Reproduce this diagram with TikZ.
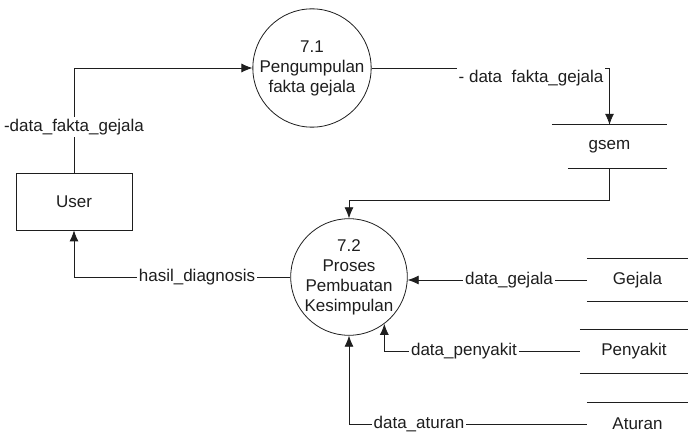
\documentclass[tikz,border=0pt]{standalone}
\usepackage{fontspec}
\setmainfont{Liberation Sans}
\usetikzlibrary{arrows.meta,calc}
\definecolor{ink}{HTML}{1E1E1E}
\begin{document}
\begin{tikzpicture}[x=1pt,y=-1pt,
  font=\fontsize{17}{20}\selectfont,
  every node/.style={text=ink},
  flow/.style={draw=ink,line width=0.8pt},
  arr/.style={flow,-{Latex[length=11pt,width=9pt]}},
  proc/.style={circle,draw=ink,line width=0.8pt,minimum size=113pt,inner sep=0pt,align=center},
  entity/.style={rectangle,draw=ink,line width=0.8pt,minimum width=116pt,minimum height=57pt},
  store/.style={minimum height=43pt,inner sep=0pt},
  lbl/.style={fill=white,inner sep=2pt}]
% canvas
\fill[white] (0,0) rectangle (688,446);
\useasboundingbox (0,0) rectangle (688,446);

% processes
\node[proc] (p1) at (312,68) {7.1\\Pengumpulan\\fakta gejala};
\node[proc] (p2) at (349,277) {7.2\\Proses\\Pembuatan\\Kesimpulan};

% external entity
\node[entity] (user) at (74,201.5) {User};

% data stores
\node[store,minimum width=115pt] (gsem) at (609.5,146.5) {gsem};
\draw[flow] (gsem.north west) -- (gsem.north east);
\draw[flow] ([xshift=16pt]gsem.south west) -- (gsem.south east);

\node[store,minimum width=101pt] (gejala) at (637.5,280) {Gejala};
\draw[flow] (gejala.north west) -- (gejala.north east);
\draw[flow] (gejala.south west) -- (gejala.south east);

\node[store,minimum width=108pt] (penyakit) at (634,351.5) {Penyakit};
\draw[flow] (penyakit.north west) -- (penyakit.north east);
\draw[flow] (penyakit.south west) -- (penyakit.south east);

\node[store,minimum width=101pt] (aturan) at (637.5,424) {Aturan};
\draw[flow] (aturan.north west) -- (aturan.north east);

% data flows
\draw[arr] (user.north) |- (p1.west);
\node[lbl] at (74,127) {-data\_fakta\_gejala};

\coordinate (gsemIn) at (gsem.north);
\draw[arr] (p1.east) -| (gsemIn);
\node[lbl,inner ysep=5pt] at (531,78) {- data\ \ fakta\_gejala};

\coordinate (gsemOut) at (gsem.south);
\coordinate (bend) at ($(gsemOut)+(0,32)$);
\draw[arr] (gsemOut) -- (bend) -| (p2.north);

\draw[arr] (p2.west) -| (user.south);
\node[lbl] at (197,277) {hasil\_diagnosis};

\coordinate (gejalaIn) at (gejala.west);
\draw[arr] (gejalaIn) -- (p2.east |- gejalaIn);
\node[lbl] at (509,280) {data\_gejala};

\draw[arr] (penyakit.west) -| (p2.-53);
\node[lbl] at (464,351.5) {data\_penyakit};

\draw[arr] (aturan.west) -| (p2.south);
\node[lbl] at (419,424) {data\_aturan};
\end{tikzpicture}
\end{document}
